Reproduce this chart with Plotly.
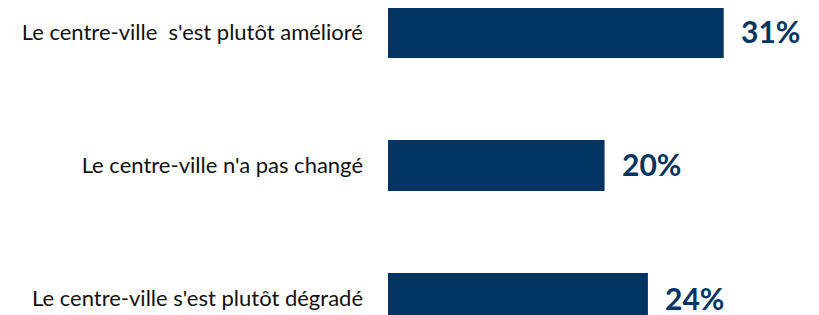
import plotly.graph_objects as go

categories = [
    "Le centre-ville  s'est plutôt amélioré",
    "Le centre-ville n'a pas changé",
    "Le centre-ville s'est plutôt dégradé",
]
values = [31, 20, 24]
value_labels = ["31%", "20%", "24%"]

bar_color = "#003462"

fig = go.Figure()
fig.add_trace(go.Bar(
    x=values,
    y=categories,
    orientation="h",
    marker=dict(color=bar_color, line=dict(width=0)),
    width=0.383,
    hoverinfo="skip",
))

for v, c, t in zip(values, categories, value_labels):
    fig.add_annotation(
        x=v, y=c, text=t, showarrow=False,
        xanchor="left", yanchor="middle",
        xshift=15, yshift=1,
        font=dict(family="Lato", size=30, color=bar_color, weight="bold"),
    )

fig.update_layout(
    width=811, height=307,
    margin=dict(l=380, r=0, t=0, b=0),
    paper_bgcolor="white", plot_bgcolor="white",
    showlegend=False,
    xaxis=dict(range=[0, 39.8], visible=False, fixedrange=True),
    yaxis=dict(
        type="category",
        categoryorder="array", categoryarray=categories,
        range=[2.124, -0.184],
        showgrid=False, zeroline=False, showline=False,
        ticks="", ticklabelstandoff=24,
        tickfont=dict(family="Lato", size=22, color="#111111"),
    ),
)

fig.write_html("out.html")
